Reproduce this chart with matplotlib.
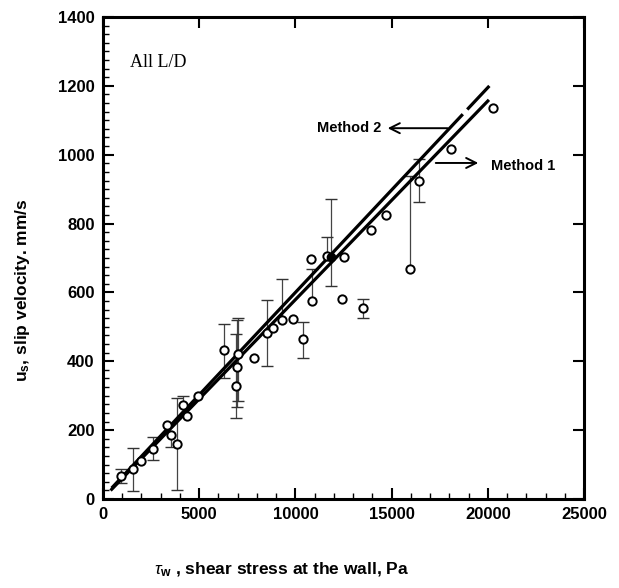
import numpy as np
import matplotlib
matplotlib.use('Agg')
import matplotlib.pyplot as plt
from matplotlib.ticker import MultipleLocator

#===============================================================================
# DATA

# SHEAR STRESS AT THE WALL (Pa) AND SLIP VELOCITY (mm/s)
tauW = np.array([935, 1540, 1975, 2615, 3310, 3515, 3865, 4160, 4385, 4920,
                 6290, 6950, 6915, 7030, 7865, 8540, 8820, 9285, 9860, 10380,
                 10845, 10810, 11625, 12545, 12405, 13530, 13950, 14710,
                 15955, 16405, 18090, 20250])
slipV = np.array([68, 86, 111, 145, 215, 186, 160, 272, 241, 300,
                  433, 384, 328, 421, 410, 481, 496, 520, 522, 464,
                  575, 696, 707, 704, 580, 556, 781, 826,
                  668, 924, 1016, 1135])

# ERROR BAR ENDS (nan = no bar on that side)
nan = np.nan
errLow = np.array([46, 23, nan, 113, nan, 152, 26, nan, nan, nan,
                   350, 266, 236, 285, nan, 386, nan, nan, nan, 410,
                   nan, nan, nan, nan, nan, 527, nan, nan,
                   nan, 862, nan, nan])
errHigh = np.array([87, 147, nan, 179, nan, nan, 294, 300, nan, nan,
                    507, 520, 478, 527, nan, 578, nan, 638, nan, 515,
                    667, nan, 762, nan, nan, 581, nan, nan,
                    938, 987, nan, nan])

# FILLED POINT
tauFilled = [11830]
slipFilled = [704]
lowFilled = [619]
highFilled = [870]

# FITTED LINES: slope, intercept, x range
fit1 = (0.0577, 2.0)
fit2 = (0.0595, 5.0)
x1Range = (450, 20000)
x2Parts = [(450, 18700), (18930, 20080)]    # gap near the top end

#===============================================================================
# PLOT

plt.rcParams['font.family'] = ['Liberation Sans', 'DejaVu Sans']
plt.rcParams['mathtext.fontset'] = 'custom'
plt.rcParams['mathtext.rm'] = 'Liberation Sans'
plt.rcParams['mathtext.it'] = 'Liberation Sans:italic'
plt.rcParams['mathtext.bf'] = 'Liberation Sans:bold'

fig = plt.figure(figsize=(6.19, 5.88), dpi=100)
ax = fig.add_axes([0.1664, 0.1514, 0.7771, 0.8197])

# ERROR BARS
allLow = np.concatenate([errLow, lowFilled])
allHigh = np.concatenate([errHigh, highFilled])
allX = np.concatenate([tauW, tauFilled])
allY = np.concatenate([slipV, slipFilled])
lo = np.where(np.isnan(allLow), allY, allLow)
hi = np.where(np.isnan(allHigh), allY, allHigh)
ax.vlines(allX, lo, hi, colors='#444444', linewidth=0.9, zorder=2)
ax.plot(allX, allLow, ls='none', marker='_', markersize=8,
        markeredgewidth=1.0, color='#333333', zorder=2)
ax.plot(allX, allHigh, ls='none', marker='_', markersize=8,
        markeredgewidth=1.0, color='#333333', zorder=2)

# FIT LINES
xl = np.linspace(x1Range[0], x1Range[1], 50)
ax.plot(xl, fit1[0] * xl + fit1[1], color='black', linewidth=2.3, zorder=3)
for a, b in x2Parts:
    xm = np.linspace(a, b, 50)
    ax.plot(xm, fit2[0] * xm + fit2[1], color='black', linewidth=2.3,
            solid_capstyle='butt', zorder=3)

# POINTS
ax.plot(tauW, slipV, ls='none', marker='o', markersize=6,
        markerfacecolor='white', markeredgecolor='black',
        markeredgewidth=1.4, zorder=4)
ax.plot(tauFilled, slipFilled, ls='none', marker='o', markersize=6,
        color='black', zorder=4)

# AXES
ax.set_xlim(0, 25000)
ax.set_ylim(0, 1400)
ax.xaxis.set_major_locator(MultipleLocator(5000))
ax.xaxis.set_minor_locator(MultipleLocator(1000))
ax.yaxis.set_major_locator(MultipleLocator(200))
ax.yaxis.set_minor_locator(MultipleLocator(25))
ax.tick_params(which='major', direction='in', length=8, width=1.5,
               top=True, right=True, labelsize=12, pad=6)
ax.tick_params(which='minor', direction='in', length=4, width=1.0,
               top=False, right=False)
for lab in ax.get_xticklabels() + ax.get_yticklabels():
    lab.set_fontweight('bold')
for s in ax.spines.values():
    s.set_linewidth(2.2)

# TEXT
ax.text(1400, 1268, "All L/D", family='Liberation Serif', fontsize=13,
        va='center', ha='left')
ax.annotate("Method 2", xy=(14650, 1077), xytext=(14450, 1077),
            fontsize=10.5, fontweight='bold', ha='right', va='center')
ax.annotate("", xy=(14650, 1077), xytext=(18050, 1077),
            arrowprops=dict(arrowstyle='->', lw=1.4, color='black',
                            mutation_scale=18))
ax.annotate("Method 1", xy=(20150, 968), fontsize=10.5, fontweight='bold',
            ha='left', va='center')
ax.annotate("", xy=(19650, 976), xytext=(17150, 976),
            arrowprops=dict(arrowstyle='->', lw=1.4, color='black',
                            mutation_scale=18))

fig.text(22 / 619, 1 - 290 / 588, r"$\mathbf{u_s}$, slip velocity. mm/s",
         rotation=90, ha='center', va='center', fontsize=12.5,
         fontweight='bold')
fig.text(282 / 619, 1 - 570 / 588,
         r"$\tau_{\mathbf{w}}$ , shear stress at the wall, Pa",
         ha='center', va='center', fontsize=12.5, fontweight='bold')

fig.savefig('out.png', dpi=100)
